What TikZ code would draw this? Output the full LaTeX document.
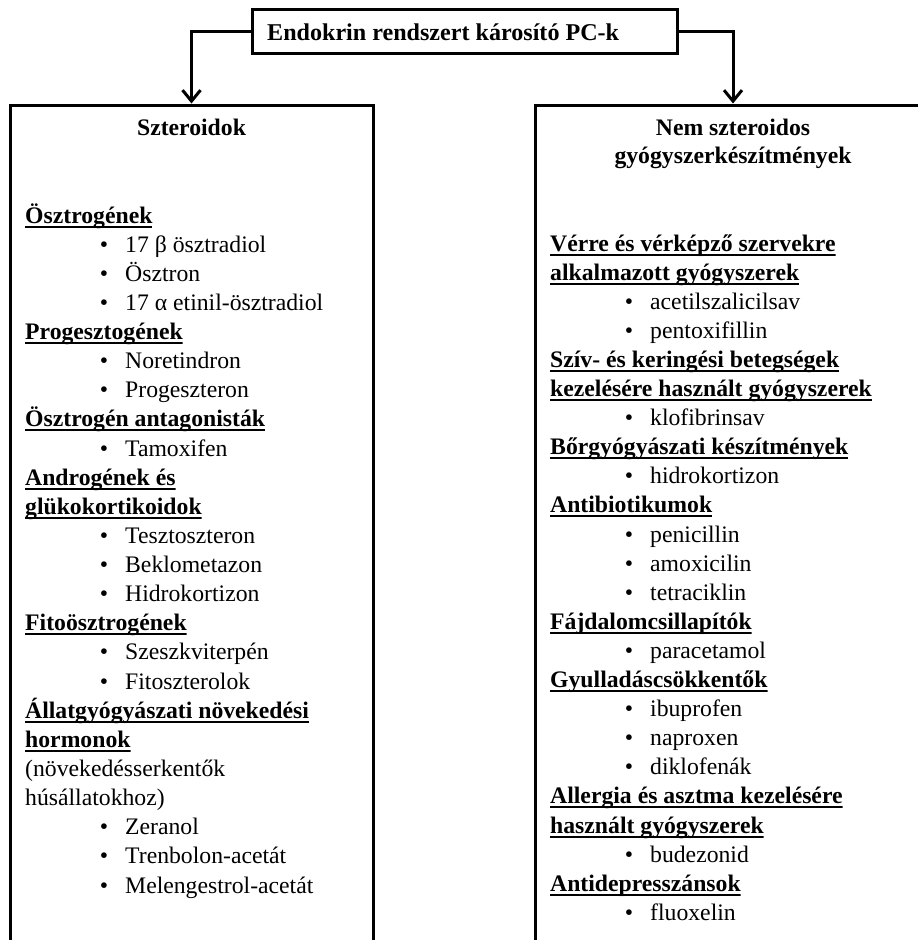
\documentclass[tikz,border=0pt]{standalone}
\usepackage{fontspec}
\setmainfont{Liberation Serif}
\usetikzlibrary{arrows.meta}
\newcommand\bodyfont{\fontsize{23.7}{28}\selectfont}
\begin{document}
\begin{tikzpicture}[x=1pt,y=-1pt,font=\bodyfont,
  box/.style={draw,line width=3pt,inner sep=0pt},
  ttl/.style={anchor=base,inner sep=0pt,font=\bodyfont\bfseries},
  H/.style={anchor=base west,inner sep=0pt,font=\bodyfont\bfseries,text depth=5.5pt,
    path picture={\draw[line width=2pt]
      ([yshift=2pt]path picture bounding box.south west) --
      ([yshift=2pt]path picture bounding box.south east);}},
  B/.style={anchor=base west,inner sep=0pt,xshift=100pt,
    execute at begin node={\llap{•\hspace{17pt}}}},
  P/.style={anchor=base west,inner sep=0pt},
  conn/.style={line width=3pt,-{Straight Barb[length=11pt,width=18pt]}}]
\useasboundingbox (0,0) rectangle (918,940);
\clip (0,0) rectangle (918,940);
\fill[white] (0,0) rectangle (918,940);
% boxes
\node[box,minimum width=425pt,minimum height=44pt] (T) at (464.5,31) {};
\node[anchor=base west,inner sep=0pt,font=\fontsize{24.1}{28}\selectfont\bfseries] (Tt) at (267,40) {Endokrin rendszert károsító PC-k};
\node[box,minimum width=363pt,minimum height=845pt] (L) at (191.5,527.5) {};
\node[box,minimum width=396pt,minimum height=845pt] (R) at (733,527.5) {};
\draw[conn] (T.west) -| (L.north);
\draw[conn] (T.east) -| (R.north);
% titles
\node[ttl] (Lt) at (191.5,135) {Szteroidok};
\node[ttl] (Rt1) at (733,135) {Nem szteroidos};
\node[ttl] (Rt2) at (733,163) {gyógyszerkészítmények};
% left list
\foreach \i/\t/\s in {
  0/H/Ösztrogének,
  1/B/17 β ösztradiol,
  2/B/Ösztron,
  3/B/17 α etinil-ösztradiol,
  4/H/Progesztogének,
  5/B/Noretindron,
  6/B/Progeszteron,
  7/H/Ösztrogén antagonisták,
  8/B/Tamoxifen,
  9/H/Androgének és,
  10/H/glükokortikoidok,
  11/B/Tesztoszteron,
  12/B/Beklometazon,
  13/B/Hidrokortizon,
  14/H/Fitoösztrogének,
  15/B/Szeszkviterpén,
  16/B/Fitoszterolok,
  17/H/Állatgyógyászati növekedési,
  18/H/hormonok,
  19/P/(növekedésserkentők,
  20/P/húsállatokhoz),
  21/B/Zeranol,
  22/B/Trenbolon-acetát,
  23/B/Melengestrol-acetát}
  \node[\t] (L\i) at (25,{223+29.13*\i}) {\s};
% right list
\foreach \i/\t/\s in {
  0/H/Vérre és vérképző szervekre,
  1/H/alkalmazott gyógyszerek,
  2/B/acetilszalicilsav,
  3/B/pentoxifillin,
  4/H/Szív- és keringési betegségek,
  5/H/kezelésére használt gyógyszerek,
  6/B/klofibrinsav,
  7/H/Bőrgyógyászati készítmények,
  8/B/hidrokortizon,
  9/H/Antibiotikumok,
  10/B/penicillin,
  11/B/amoxicilin,
  12/B/tetraciklin,
  13/H/Fájdalomcsillapítók,
  14/B/paracetamol,
  15/H/Gyulladáscsökkentők,
  16/B/ibuprofen,
  17/B/naproxen,
  18/B/diklofenák,
  19/H/Allergia és asztma kezelésére,
  20/H/használt gyógyszerek,
  21/B/budezonid,
  22/H/Antidepresszánsok,
  23/B/fluoxelin}
  \node[\t] (R\i) at (550,{251+29.1*\i}) {\s};
\end{tikzpicture}
\end{document}
